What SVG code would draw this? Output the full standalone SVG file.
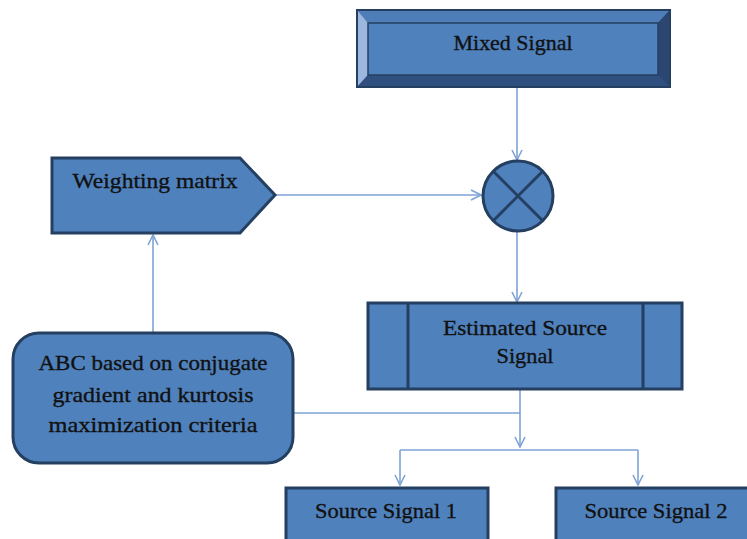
<svg xmlns="http://www.w3.org/2000/svg" width="747" height="539" viewBox="0 0 747 539">
<defs>
<style>
.n{fill:#4F81BD;stroke:#243F60;stroke-width:3}
.t{font-family:"Liberation Serif",serif;font-size:22px;fill:#111;stroke:#111;stroke-width:0.35;text-anchor:middle}
.c{fill:none;stroke:#7EA3D6;stroke-width:1.6}
</style>
<marker id="a" viewBox="0 0 12 12" refX="11" refY="6" markerWidth="12" markerHeight="12" markerUnits="userSpaceOnUse" orient="auto">
<path d="M1,1 L11,6 L1,11" fill="none" stroke="#7EA3D6" stroke-width="1.6"/>
</marker>
</defs>
<rect width="747" height="539" fill="#fff"/>
<g id="connectors">
<path class="c" d="M517,87 V160" marker-end="url(#a)"/>
<path class="c" d="M275,195 H481" marker-end="url(#a)"/>
<path class="c" d="M517,231 V302" marker-end="url(#a)"/>
<path class="c" d="M153,333 V235" marker-end="url(#a)"/>
<path class="c" d="M520,389 V447" marker-end="url(#a)"/>
<path class="c" d="M293,413 H520"/>
<path class="c" d="M400,450 H638"/>
<path class="c" d="M400,450 V485" marker-end="url(#a)"/>
<path class="c" d="M638,450 V485" marker-end="url(#a)"/>
</g>
<g id="mixed">
<rect x="357" y="10" width="313" height="77" fill="#2E4D7B" stroke="#243F60" stroke-width="2"/>
<polygon points="358,11 669,11 658,23 368,23" fill="#4E7DB8"/>
<polygon points="358,11 368,23 368,75 358,86" fill="#9DB8DE"/>
<polygon points="669,11 669,86 658,75 658,23" fill="#2B4670"/>
<polygon points="358,86 368,75 658,75 669,86" fill="#2F4F7E"/>
<rect x="368" y="23" width="290" height="52" fill="#4F81BD" stroke="#243F60" stroke-width="1.5"/>
<text class="t" x="513" y="50" textLength="119" lengthAdjust="spacingAndGlyphs">Mixed Signal</text>
</g>
<g id="sum">
<circle class="n" cx="518" cy="196" r="35"/>
<path d="M493.3,171.3 L542.7,220.7 M542.7,171.3 L493.3,220.7" stroke="#243F60" stroke-width="3"/>
</g>
<g id="weight">
<polygon class="n" points="52,158 240,158 275,195 240,233 52,233"/>
<text class="t" x="155" y="188" textLength="165" lengthAdjust="spacingAndGlyphs">Weighting matrix</text>
</g>
<g id="estimated">
<rect class="n" x="368" y="303" width="314" height="86"/>
<path d="M408,303 V389 M643,303 V389" stroke="#243F60" stroke-width="3"/>
<text class="t" x="525" y="335" textLength="164" lengthAdjust="spacingAndGlyphs">Estimated Source</text>
<text class="t" x="525" y="363" textLength="57" lengthAdjust="spacingAndGlyphs">Signal</text>
</g>
<g id="abc">
<rect class="n" x="13" y="333" width="280" height="130" rx="26" ry="26"/>
<text class="t" x="153" y="370" textLength="229" lengthAdjust="spacingAndGlyphs">ABC based on conjugate</text>
<text class="t" x="153" y="402" textLength="201" lengthAdjust="spacingAndGlyphs">gradient and kurtosis</text>
<text class="t" x="153" y="432" textLength="209" lengthAdjust="spacingAndGlyphs">maximization criteria</text>
</g>
<g id="src1">
<rect class="n" x="286" y="488" width="202" height="70"/>
<text class="t" x="386" y="518" textLength="142" lengthAdjust="spacingAndGlyphs">Source Signal 1</text>
</g>
<g id="src2">
<rect class="n" x="556" y="488" width="200" height="70"/>
<text class="t" x="656" y="518" textLength="143" lengthAdjust="spacingAndGlyphs">Source Signal 2</text>
</g>
</svg>
